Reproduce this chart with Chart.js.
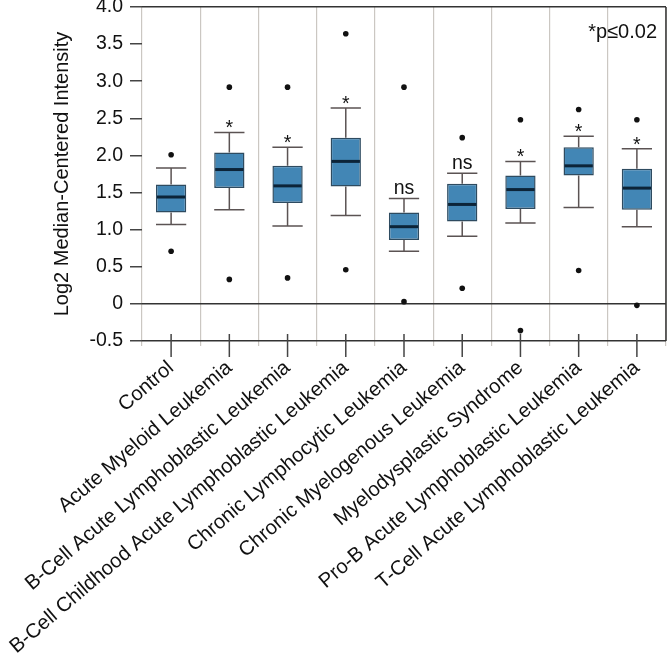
<!DOCTYPE html>
<html>
<head>
<meta charset="utf-8">
<script src="https://cdn.jsdelivr.net/npm/chart.js@4.4.1/dist/chart.umd.min.js"></script>
<style>
  html, body { margin: 0; padding: 0; background: #fff; }
</style>
</head>
<body>
<canvas id="myChart" width="670" height="661"></canvas>
<script>
const categories = [
  'Control',
  'Acute Myeloid Leukemia',
  'B-Cell Acute Lymphoblastic Leukemia',
  'B-Cell Childhood Acute Lymphoblastic Leukemia',
  'Chronic Lymphocytic Leukemia',
  'Chronic Myelogenous Leukemia',
  'Myelodysplastic Syndrome',
  'Pro-B Acute Lymphoblastic Leukemia',
  'T-Cell Acute Lymphoblastic Leukemia'
];

// box statistics
const whiskerLow  = [1.07, 1.27, 1.05, 1.19, 0.71, 0.91, 1.09, 1.30, 1.04];
const q1          = [1.23, 1.56, 1.36, 1.58, 0.86, 1.11, 1.28, 1.73, 1.27];
const medians     = [1.44, 1.81, 1.59, 1.92, 1.04, 1.34, 1.54, 1.86, 1.56];
const q3          = [1.61, 2.04, 1.86, 2.24, 1.23, 1.62, 1.73, 2.11, 1.82];
const whiskerHigh = [1.83, 2.31, 2.11, 2.64, 1.42, 1.76, 1.92, 2.26, 2.09];
const outlierHigh = [2.01, 2.92, 2.92, 3.64, 2.92, 2.24, 2.48, 2.62, 2.48];
const outlierLow  = [0.71, 0.33, 0.35, 0.46, 0.03, 0.21, -0.36, 0.45, -0.02];
const marks       = ['', '*', '*', '*', 'ns', 'ns', '*', '*', '*'];

const yTicks = [-0.5, 0, 0.5, 1.0, 1.5, 2.0, 2.5, 3.0, 3.5, 4.0];
const strongLines = [-0.5, 0, 4.0];

const fontFamily = "'Liberation Sans', Arial, sans-serif";
Chart.defaults.font.family = fontFamily;
Chart.defaults.font.size = 19.5;
Chart.defaults.color = '#111';

const outlierPoints = [];
categories.forEach((c, i) => {
  outlierPoints.push({ x: c, y: outlierHigh[i] });
  outlierPoints.push({ x: c, y: outlierLow[i] });
});

const boxExtras = {
  id: 'boxExtras',
  afterDatasetsDraw(chart) {
    const { ctx, chartArea, scales: { x, y } } = chart;
    const meta = chart.getDatasetMeta(0);
    ctx.save();
    categories.forEach((c, i) => {
      const bar = meta.data[i];
      const cx = bar.x;
      const half = bar.width / 2;
      const yHi = y.getPixelForValue(whiskerHigh[i]);
      const yLo = y.getPixelForValue(whiskerLow[i]);

      // whiskers + caps
      ctx.strokeStyle = '#5b5353';
      ctx.lineWidth = 1.5;
      ctx.beginPath();
      ctx.moveTo(cx, y.getPixelForValue(q3[i]));
      ctx.lineTo(cx, yHi);
      ctx.moveTo(cx, y.getPixelForValue(q1[i]));
      ctx.lineTo(cx, yLo);
      ctx.moveTo(cx - half, yHi);
      ctx.lineTo(cx + half, yHi);
      ctx.moveTo(cx - half, yLo);
      ctx.lineTo(cx + half, yLo);
      ctx.stroke();

      // median
      ctx.strokeStyle = '#0c2438';
      ctx.lineWidth = 3;
      ctx.beginPath();
      const ym = y.getPixelForValue(medians[i]);
      ctx.moveTo(cx - half + 1, ym);
      ctx.lineTo(cx + half - 1, ym);
      ctx.stroke();

      // significance marks
      if (marks[i]) {
        ctx.fillStyle = '#111';
        ctx.textAlign = 'center';
        ctx.textBaseline = 'alphabetic';
        ctx.font = '19.5px ' + fontFamily;
        if (marks[i] === '*') {
          ctx.fillText('*', cx, yHi + 2);
        } else {
          ctx.fillText(marks[i], cx, yHi - 4.5);
        }
      }

      // category tick at centre
      ctx.strokeStyle = '#444';
      ctx.lineWidth = 1.5;
      ctx.beginPath();
      ctx.moveTo(cx, chartArea.bottom - 7);
      ctx.lineTo(cx, chartArea.bottom + 16);
      ctx.stroke();
    });

    // right frame
    ctx.strokeStyle = '#333';
    ctx.lineWidth = 1.5;
    ctx.beginPath();
    ctx.moveTo(chartArea.right, chartArea.top);
    ctx.lineTo(chartArea.right, chartArea.bottom);
    ctx.stroke();

    // p-value note
    ctx.fillStyle = '#111';
    ctx.font = '20px ' + fontFamily;
    ctx.textAlign = 'right';
    ctx.textBaseline = 'alphabetic';
    ctx.fillText('*p\u22640.02', chartArea.right - 9, chartArea.top + 31);
    ctx.restore();
  }
};

const ctx = document.getElementById('myChart');

new Chart(ctx, {
  type: 'bar',
  data: {
    labels: categories,
    datasets: [{
      label: 'IQR',
      data: categories.map((c, i) => [q1[i], q3[i]]),
      backgroundColor: '#4286b5',
      borderColor: '#2e4b60',
      borderWidth: 1.5,
      borderSkipped: false,
      barPercentage: 0.52,
      categoryPercentage: 1
    }, {
      type: 'line',
      label: 'outliers',
      data: outlierPoints,
      showLine: false,
      pointRadius: 2.8,
      pointBackgroundColor: '#111',
      pointBorderWidth: 0
    }]
  },
  options: {
    responsive: false,
    animation: false,
    layout: { padding: { left: 50, top: 0, right: 2 } },
    plugins: {
      legend: { display: false },
      tooltip: { enabled: false }
    },
    scales: {
      x: {
        offset: true,
        grid: {
          offset: true,
          color: '#cbc7c2',
          lineWidth: 1.2,
          tickLength: 5,
          tickColor: '#cbc7c2'
        },
        border: { display: false },
        ticks: {
          minRotation: 40.5,
          maxRotation: 40.5,
          autoSkip: false,
          padding: 10,
          color: '#111',
          font: { size: 20.3 }
        },
        afterFit(scale) { scale.height = 320; }
      },
      y: {
        min: -0.5,
        max: 4.0,
        afterBuildTicks(scale) { scale.ticks = yTicks.map(v => ({ value: v })); },
        grid: {
          color: c => strongLines.includes(c.tick && c.tick.value) ? '#333' : 'rgba(0,0,0,0)',
          lineWidth: 1.5,
          tickLength: 12,
          tickColor: '#444'
        },
        border: { display: false },
        ticks: {
          padding: 7,
          color: '#111',
          font: { size: 19.5 },
          callback: v => v === 0 ? '0' : Number(v).toFixed(1)
        },
        title: {
          display: true,
          text: 'Log2 Median-Centered Intensity',
          color: '#111',
          font: { size: 20 },
          padding: 0
        },
        afterFit(scale) {
          scale.width = 92;
          scale.paddingTop = 7;
          scale.paddingBottom = 0;
        }
      }
    }
  },
  plugins: [boxExtras]
});
</script>
</body>
</html>
